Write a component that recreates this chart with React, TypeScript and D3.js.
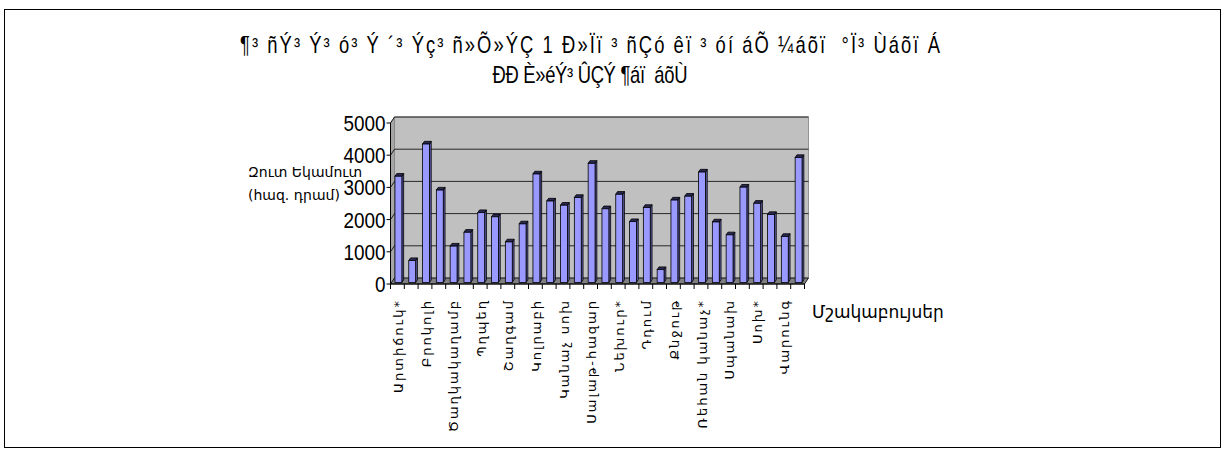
import { useEffect, useRef } from 'react'
import * as d3 from 'd3'

// crop names (only every other one is printed, like the original Excel chart)
const categories = [
  'Արտիճուկ*', 'Բադրիջան', 'Բրոկոլի', 'Գազար', 'Ծաղկակաղամբ', 'Լոլիկ',
  'Պղպեղ', 'Լոբի', 'Շաղգամ', 'Ճակնդեղ', 'Կոլրաբի', 'Կաղամբ',
  'Կանաչ սոխ', 'Կարտոֆիլ', 'Սալաթ-հազար', 'Սամիթ', 'Նեխուր*', 'Մաղադանոս',
  'Դդում', 'Համեմ', 'Քնջութ', 'Թարխուն', 'Ռեհան կանաչ*', 'Սխտոր',
  'Սպանախ', 'Սմբուկ', 'Սոխ*', 'Ձմերուկ', 'Վարունգ', 'Սեխ'
]

const netIncome = [
  3300, 680, 4300, 2870, 1130, 1560, 2170, 2040, 1260, 1820,
  3370, 2530, 2400, 2640, 3700, 2290, 2740, 1890, 2330, 400,
  2560, 2680, 3430, 1880, 1480, 2960, 2460, 2110, 1430, 3880
]

const yTicks = [0, 1000, 2000, 3000, 4000, 5000]

const titleLines = [
  '¶³ ñÝ³ Ý³ ó³ Ý ´³ Ýç³ ñ»Õ»ÝÇ 1 Ð»Ïï ³ ñÇó êï ³ óí áÕ ¼áõï  °Ï³ Ùáõï Á',
  'ÐÐ È»éÝ³ ÛÇÝ ¶áï  áõÙ'
]
const yTitle = ['Զուտ Եկամուտ', '(հազ. դրամ)']
const xTitle = 'Մշակաբույսեր'

export default function App() {
  const svgRef = useRef<SVGSVGElement>(null)

  useEffect(() => {
    if (!svgRef.current) return
    const svg = d3.select(svgRef.current)
    svg.selectAll('*').remove()

    const W = 1225
    const H = 450
    const left = 390.5
    const right = 804.5
    const base = 284
    // 3D depth offset of the back wall
    const dx = 4
    const dy = -6

    const x = d3.scaleBand<string>().domain(categories).range([left, right]).padding(0)
    const y = d3.scaleLinear().domain([0, 5000]).range([base, 123])
    const step = x.step()
    const barW = step * 0.5

    // outer frame
    svg.append('rect')
      .attr('x', 4.5).attr('y', 9.5)
      .attr('width', W - 9).attr('height', H - 12)
      .attr('fill', 'white').attr('stroke', '#000')

    const sans = '"Liberation Sans", Arial, sans-serif'
    const armenian = '"DejaVu Sans", sans-serif'
    const narrowX = 0.8

    // title, condensed to look like Arial Narrow
    svg.append('g').selectAll('text')
      .data(titleLines)
      .enter().append('text')
      .attr('transform', (_, i) => `translate(590, ${53 + i * 30}) scale(${narrowX}, 1)`)
      .attr('text-anchor', 'middle')
      .attr('textLength', (_, i) => (i === 0 ? 700 : 195) / narrowX)
      .attr('lengthAdjust', 'spacing')
      .style('font-family', sans)
      .style('font-size', '23px')
      .style('white-space', 'pre')
      .text(d => d)

    const top = y(5000)

    // side wall, floor and back wall
    svg.append('polygon')
      .attr('points', [[left, top], [left + dx, top + dy], [left + dx, base + dy], [left, base]].join(' '))
      .attr('fill', '#a6a6a6').attr('stroke', '#808080').attr('stroke-width', 0.8)
    svg.append('rect')
      .attr('x', left + dx).attr('y', top + dy)
      .attr('width', right - left).attr('height', base - top)
      .attr('fill', '#c0c0c0').attr('stroke', '#808080').attr('stroke-width', 0.8)
    svg.append('polygon')
      .attr('points', [[left, base], [left + dx, base + dy], [right + dx, base + dy], [right, base]].join(' '))
      .attr('fill', '#808080').attr('stroke', '#000').attr('stroke-width', 0.8)

    // gridlines
    const grid = svg.append('g').attr('stroke', '#000').attr('stroke-width', 0.8)
    yTicks.filter(t => t > 0).forEach(t => {
      grid.append('line')
        .attr('x1', left).attr('y1', y(t))
        .attr('x2', left + dx).attr('y2', y(t) + dy)
      grid.append('line')
        .attr('x1', left + dx).attr('y1', y(t) + dy)
        .attr('x2', right + dx).attr('y2', y(t) + dy)
    })

    // bars (front face a quarter of the way in)
    const f1 = 0.25
    const f2 = 0.7
    const bars = svg.append('g')
    categories.forEach((c, i) => {
      const v = netIncome[i]
      const x0 = (x(c) ?? 0) + (step - barW) / 2 + dx * f1
      const x1 = x0 + barW
      const yb = base + dy * f1
      const yt = y(v) + dy * f1
      const ox = dx * (f2 - f1)
      const oy = dy * (f2 - f1)
      bars.append('polygon')
        .attr('points', [[x1, yb], [x1 + ox, yb + oy], [x1 + ox, yt + oy], [x1, yt]].join(' '))
        .attr('fill', '#5c5ca8').attr('stroke', '#000').attr('stroke-width', 0.8)
      bars.append('polygon')
        .attr('points', [[x0, yt], [x0 + ox, yt + oy], [x1 + ox, yt + oy], [x1, yt]].join(' '))
        .attr('fill', '#2a2a55').attr('stroke', '#000').attr('stroke-width', 0.8)
      bars.append('rect')
        .attr('x', x0).attr('y', yt)
        .attr('width', barW).attr('height', yb - yt)
        .attr('fill', '#9999ff').attr('stroke', '#000').attr('stroke-width', 0.8)
    })

    // y axis
    const yAxis = svg.append('g')
    yAxis.append('line')
      .attr('x1', left).attr('x2', left)
      .attr('y1', top).attr('y2', base)
      .attr('stroke', '#000')
    yAxis.selectAll('line.tick')
      .data(yTicks)
      .enter().append('line')
      .attr('x1', left - 4).attr('x2', left)
      .attr('y1', d => y(d)).attr('y2', d => y(d))
      .attr('stroke', '#000')
    yAxis.selectAll('text')
      .data(yTicks)
      .enter().append('text')
      .attr('transform', d => `translate(${left - 5}, ${y(d)}) scale(0.86, 1)`)
      .attr('dy', '0.36em')
      .attr('text-anchor', 'end')
      .style('font-family', sans)
      .style('font-size', '22px')
      .text(d => d)

    // x axis
    const xAxis = svg.append('g')
    xAxis.append('line')
      .attr('x1', left).attr('x2', right)
      .attr('y1', base).attr('y2', base)
      .attr('stroke', '#000')
    const edges = categories.map(c => x(c) ?? 0).concat([right])
    xAxis.selectAll('line.tick')
      .data(edges)
      .enter().append('line')
      .attr('x1', d => d).attr('x2', d => d)
      .attr('y1', base).attr('y2', base + 5)
      .attr('stroke', '#000')

    xAxis.selectAll('text')
      .data(categories.filter((_, i) => i % 2 === 0))
      .enter().append('text')
      .attr('transform', d => `translate(${(x(d) ?? 0) + step / 2 + 1}, 299) rotate(-90)`)
      .attr('text-anchor', 'end')
      .attr('dy', '0.35em')
      .style('font-family', armenian)
      .style('font-size', '13px')
      .style('letter-spacing', '2px')
      .text(d => d)

    // axis titles
    svg.append('g').selectAll('text')
      .data(yTitle)
      .enter().append('text')
      .attr('x', 248)
      .attr('y', (_, i) => 177 + i * 23)
      .style('font-family', armenian)
      .style('font-size', '14px')
      .text(d => d)

    svg.append('text')
      .attr('x', 812)
      .attr('y', 318)
      .style('font-family', armenian)
      .style('font-size', '17px')
      .text(xTitle)
  }, [])

  return (
    <svg
      ref={svgRef}
      width={1225}
      height={450}
      style={{ position: 'absolute', left: 0, top: 0, background: 'white' }}
    />
  )
}
